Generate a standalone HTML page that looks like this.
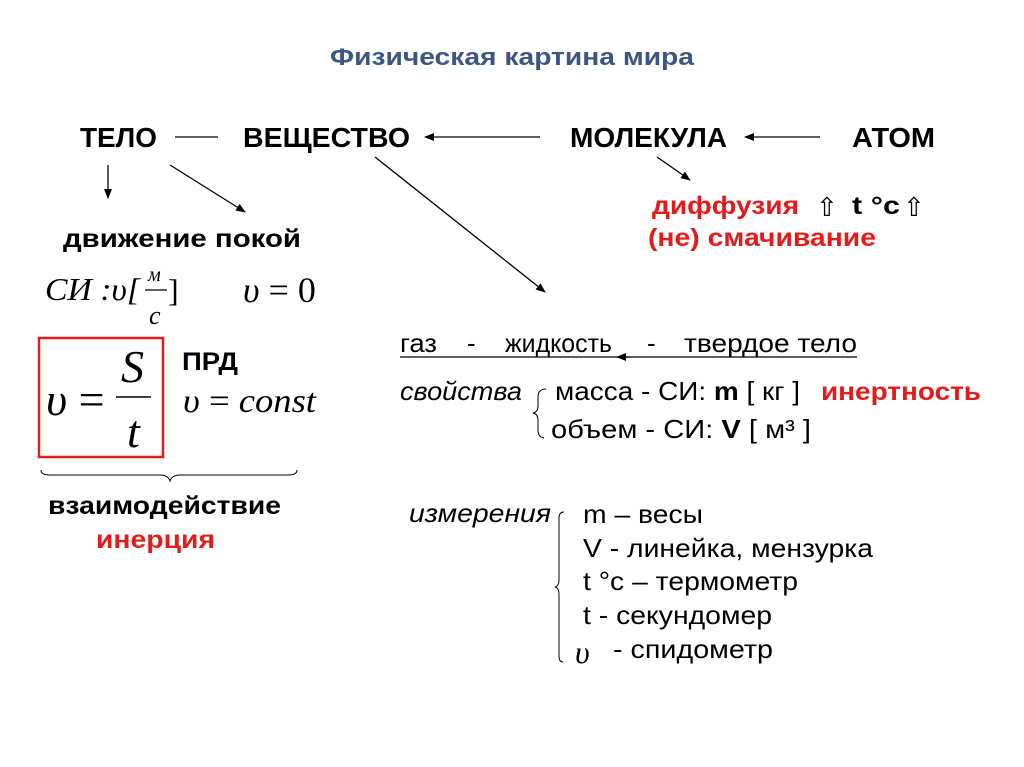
<!DOCTYPE html>
<html><head><meta charset="utf-8"><style>
html,body{margin:0;padding:0;background:#fff;}
svg{display:block}
.s{font-family:"Liberation Sans",sans-serif;}
.h{font-family:"Liberation Sans",sans-serif;font-weight:bold;font-size:28px;fill:#000}
.hb{font-family:"Liberation Sans",sans-serif;font-weight:bold;font-size:25px;fill:#000}
.r{font-family:"Liberation Sans",sans-serif;font-size:26px;fill:#000}
.rb{font-family:"Liberation Sans",sans-serif;font-weight:bold;font-size:25px;fill:#e31b1b}
.se{font-family:"Liberation Serif",serif;fill:#000}
</style></head><body>
<svg width="1024" height="767" viewBox="0 0 1024 767" xmlns="http://www.w3.org/2000/svg">
<defs><marker id="a" markerWidth="10" markerHeight="8" refX="9" refY="4" orient="auto" markerUnits="userSpaceOnUse"><path d="M0,0 L10,4 L0,8 Z" fill="#000"/></marker></defs>
<rect x="0" y="0" width="1024" height="767" fill="#fff"/>
<text class="s" x="330" y="65" textLength="364" lengthAdjust="spacingAndGlyphs" font-weight="bold" font-size="24" fill="#3b5683">Физическая картина мира</text>

<text class="h" x="80" y="147" textLength="77" lengthAdjust="spacingAndGlyphs">ТЕЛО</text>
<text class="h" x="243" y="147" textLength="167" lengthAdjust="spacingAndGlyphs">ВЕЩЕСТВО</text>
<text class="h" x="570" y="147" textLength="157" lengthAdjust="spacingAndGlyphs">МОЛЕКУЛА</text>
<text class="h" x="852" y="147" textLength="83" lengthAdjust="spacingAndGlyphs">АТОМ</text>

<g stroke="#000" stroke-width="1.3" fill="none">
<line x1="175" y1="137" x2="218" y2="137"/>
<line x1="540" y1="137" x2="425" y2="137" marker-end="url(#a)"/>
<line x1="820" y1="137" x2="745" y2="137" marker-end="url(#a)"/>
<line x1="108" y1="165" x2="108" y2="198" marker-end="url(#a)"/>
<line x1="170" y1="165" x2="245" y2="212" marker-end="url(#a)"/>
<line x1="375" y1="157" x2="545" y2="292" marker-end="url(#a)"/>
<line x1="657" y1="157" x2="690" y2="180" marker-end="url(#a)"/>
<line x1="630" y1="357" x2="617" y2="357" marker-end="url(#a)"/>
</g>

<text class="hb" x="63" y="247" textLength="238" lengthAdjust="spacingAndGlyphs">движение  покой</text>
<text class="rb" x="652" y="214" textLength="147" lengthAdjust="spacingAndGlyphs">диффузия</text>
<text class="s" x="816" y="216" font-size="26" fill="#000">⇧</text>
<text class="hb" x="852" y="214" textLength="48" lengthAdjust="spacingAndGlyphs">t °c</text>
<text class="s" x="903" y="216" font-size="26" fill="#000">⇧</text>
<text class="rb" x="648" y="246" textLength="228" lengthAdjust="spacingAndGlyphs">(не) смачивание</text>

<text class="se" x="45" y="300" font-size="32" font-style="italic" textLength="95" lengthAdjust="spacingAndGlyphs">СИ :υ[</text>
<text class="se" x="148" y="281" font-size="20" font-style="italic">м</text>
<line x1="145" y1="290" x2="167" y2="290" stroke="#000" stroke-width="1.2"/>
<text class="se" x="149" y="324" font-size="26" font-style="italic">c</text>
<text class="se" x="168" y="301" font-size="32">]</text>
<text class="se" x="243" y="302" font-size="36"><tspan font-style="italic">υ</tspan> = 0</text>

<rect x="39" y="338" width="124" height="119" fill="none" stroke="#e31b1b" stroke-width="2.5"/>
<text class="se" x="46" y="415" font-size="46"><tspan font-style="italic">υ</tspan> =</text>
<text class="se" x="121" y="382" font-size="46" font-style="italic">S</text>
<line x1="116" y1="397" x2="151" y2="397" stroke="#000" stroke-width="1.5"/>
<text class="se" x="127" y="447" font-size="46" font-style="italic">t</text>
<text class="hb" x="182" y="370" textLength="56" lengthAdjust="spacingAndGlyphs">ПРД</text>
<text class="se" x="183" y="412" font-size="34" textLength="133" lengthAdjust="spacingAndGlyphs"><tspan font-style="italic">υ</tspan> = <tspan font-style="italic">const</tspan></text>

<path d="M41,470 Q41,475 50,475 L160,475 Q168,475 170,481 Q172,475 180,475 L288,475 Q297,475 297,470" fill="none" stroke="#000" stroke-width="1"/>
<text class="hb" x="48" y="514" textLength="233" lengthAdjust="spacingAndGlyphs">взаимодействие</text>
<text class="rb" x="96" y="548" textLength="119" lengthAdjust="spacingAndGlyphs">инерция</text>

<text class="r" x="400" y="352" textLength="37" lengthAdjust="spacingAndGlyphs">газ</text>
<text class="r" x="467" y="352">-</text>
<text class="r" x="505" y="352" textLength="107" lengthAdjust="spacingAndGlyphs">жидкость</text>
<text class="r" x="647" y="352">-</text>
<text class="r" x="684" y="352" textLength="173" lengthAdjust="spacingAndGlyphs">твердое тело</text>
<line x1="400" y1="357" x2="857" y2="357" stroke="#000" stroke-width="1.2"/>

<text class="r" x="400" y="400" font-style="italic" textLength="122" lengthAdjust="spacingAndGlyphs">свойства</text>
<path d="M546,389 Q538,389 538,397 L538,406 Q538,412 533,413 Q538,414 538,420 L538,430 Q538,437 544,438" fill="none" stroke="#000" stroke-width="1"/>
<text class="r" x="555" y="400" textLength="245" lengthAdjust="spacingAndGlyphs">масса - СИ: <tspan font-weight="bold">m</tspan> [ кг ]</text>
<text class="rb" x="821" y="400" textLength="160" lengthAdjust="spacingAndGlyphs">инертность</text>
<text class="r" x="551" y="438" textLength="260" lengthAdjust="spacingAndGlyphs">объем - СИ: <tspan font-weight="bold">V</tspan>  [ м³ ]</text>

<text class="r" x="409" y="522" font-style="italic" textLength="142" lengthAdjust="spacingAndGlyphs">измерения</text>
<path d="M564,512 Q559,512 559,518 L559,580 Q559,586 555,587 Q559,588 559,594 L559,656 Q559,662 563,662" fill="none" stroke="#000" stroke-width="1"/>
<text class="r" x="583" y="523" textLength="120" lengthAdjust="spacingAndGlyphs">m – весы</text>
<text class="r" x="583" y="557" textLength="290" lengthAdjust="spacingAndGlyphs">V - линейка, мензурка</text>
<text class="r" x="583" y="590" textLength="215" lengthAdjust="spacingAndGlyphs">t °c – термометр</text>
<text class="r" x="583" y="624" textLength="189" lengthAdjust="spacingAndGlyphs">t - секундомер</text>
<text class="se" x="575" y="663" font-style="italic" font-size="32">υ</text>
<text class="r" x="613" y="658" textLength="160" lengthAdjust="spacingAndGlyphs">- спидометр</text>
</svg>
</body></html>
